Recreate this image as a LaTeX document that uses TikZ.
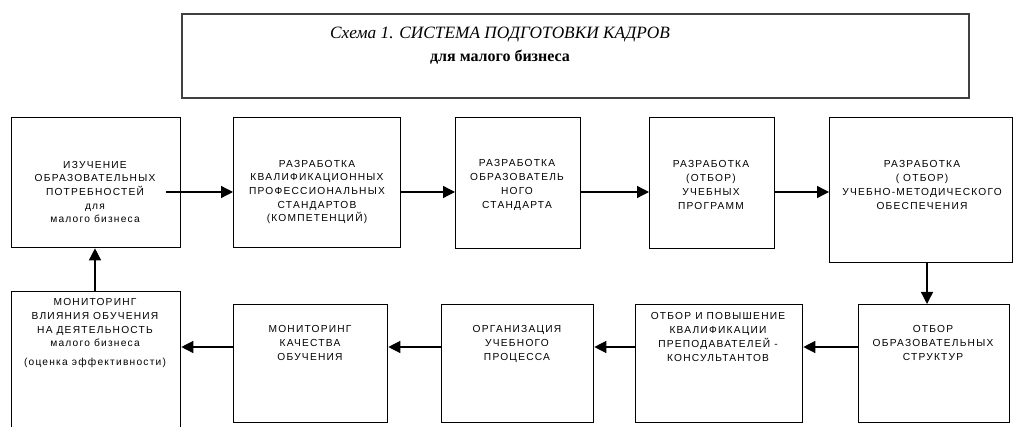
\documentclass[tikz,border=0pt]{standalone}
\usepackage{fontspec}
\setmainfont{Liberation Serif}
\newfontfamily\boxfont[LetterSpace=12]{Liberation Sans}
\usetikzlibrary{arrows.meta,calc}

\tikzset{
  frame/.style={draw=black, line width=1.3pt, inner sep=0pt, anchor=north west},
  txt/.style={font=\boxfont\fontsize{10.2}{13.7}\selectfont, align=center, inner sep=0pt},
  arr/.style={line width=1.3pt, -{Triangle[length=12pt,width=12pt]}},
}

\begin{document}
\begin{tikzpicture}[x=1pt,y=-1pt]
\useasboundingbox (0,0) rectangle (1016,427);

% heading
\node[frame, draw=black!75, line width=1.8pt, minimum width=787pt, minimum height=84pt] (head) at (181,13) {};
\node[align=center, inner sep=0pt] (headtxt) at (500,46)
  {{\fontsize{17.3}{20}\selectfont\itshape Схема 1. СИСТЕМА ПОДГОТОВКИ КАДРОВ}\\[7pt]
   {\fontsize{16}{18}\selectfont\bfseries для малого бизнеса}};

% upper row
\node[frame, minimum width=169pt, minimum height=130pt] (b1) at (11,117) {};
\node[frame, minimum width=167pt, minimum height=130pt] (b2) at (233,117) {};
\node[frame, minimum width=125pt, minimum height=131pt] (b3) at (455,117) {};
\node[frame, minimum width=125pt, minimum height=131pt] (b4) at (649,117) {};
\node[frame, minimum width=183pt, minimum height=145pt] (b5) at (829,117) {};

% lower row
\node[frame, minimum width=151pt, minimum height=118pt] (b6) at (858,304) {};
\node[frame, minimum width=167pt, minimum height=118pt] (b7) at (635,304) {};
\node[frame, minimum width=152pt, minimum height=118pt] (b8) at (441,304) {};
\node[frame, minimum width=154pt, minimum height=118pt] (b9) at (233,304) {};
\node[frame, minimum width=169pt, minimum height=160pt] (b10) at (11,291) {};

% box texts
\node[txt] (t1) at (95,192) {ИЗУЧЕНИЕ\\ОБРАЗОВАТЕЛЬНЫХ\\ПОТРЕБНОСТЕЙ\\для\\малого бизнеса};
\node[txt] (t2) at (317,192) {РАЗРАБОТКА\\КВАЛИФИКАЦИОННЫХ\\ПРОФЕССИОНАЛЬНЫХ\\СТАНДАРТОВ\\(КОМПЕТЕНЦИЙ)};
\node[txt] (t3) at (517,185) {РАЗРАБОТКА\\ОБРАЗОВАТЕЛЬ\\НОГО\\СТАНДАРТА};
\node[txt] (t4) at (711,185) {РАЗРАБОТКА\\(ОТБОР)\\УЧЕБНЫХ\\ПРОГРАММ};
\node[txt] (t5) at (922,185) {РАЗРАБОТКА\\( ОТБОР)\\УЧЕБНО-МЕТОДИЧЕСКОГО\\ОБЕСПЕЧЕНИЯ};
\node[txt] (t6) at (933,343) {ОТБОР\\ОБРАЗОВАТЕЛЬНЫХ\\СТРУКТУР};
\node[txt] (t7) at (718,337) {ОТБОР И ПОВЫШЕНИЕ\\КВАЛИФИКАЦИИ\\ПРЕПОДАВАТЕЛЕЙ -\\КОНСУЛЬТАНТОВ};
\node[txt] (t8) at (517,344) {ОРГАНИЗАЦИЯ\\УЧЕБНОГО\\ПРОЦЕССА};
\node[txt] (t9) at (310,343) {МОНИТОРИНГ\\КАЧЕСТВА\\ОБУЧЕНИЯ};
\node[txt] (t10) at (95,333) {МОНИТОРИНГ\\ВЛИЯНИЯ ОБУЧЕНИЯ\\НА ДЕЯТЕЛЬНОСТЬ\\малого бизнеса\\[5pt](оценка эффективности)};

% connector levels
\coordinate (r1) at (0,192);
\coordinate (r2) at (0,347);
\coordinate (down) at (927,0);
\coordinate (up) at (95,0);

% upper row, left to right
\draw[arr] ($(b1.east |- r1)+(-15,0)$) -- (b2.west |- r1);
\draw[arr] (b2.east |- r1) -- (b3.west |- r1);
\draw[arr] (b3.east |- r1) -- (b4.west |- r1);
\draw[arr] (b4.east |- r1) -- (b5.west |- r1);
% turn down to the lower row
\draw[arr] (b5.south -| down) -- (b6.north -| down);
% lower row, right to left
\draw[arr] (b6.west |- r2) -- (b7.east |- r2);
\draw[arr] (b7.west |- r2) -- (b8.east |- r2);
\draw[arr] (b8.west |- r2) -- (b9.east |- r2);
\draw[arr] (b9.west |- r2) -- (b10.east |- r2);
% back up to the start
\draw[arr] (b10.north -| up) -- (b1.south -| up);
\end{tikzpicture}
\end{document}
